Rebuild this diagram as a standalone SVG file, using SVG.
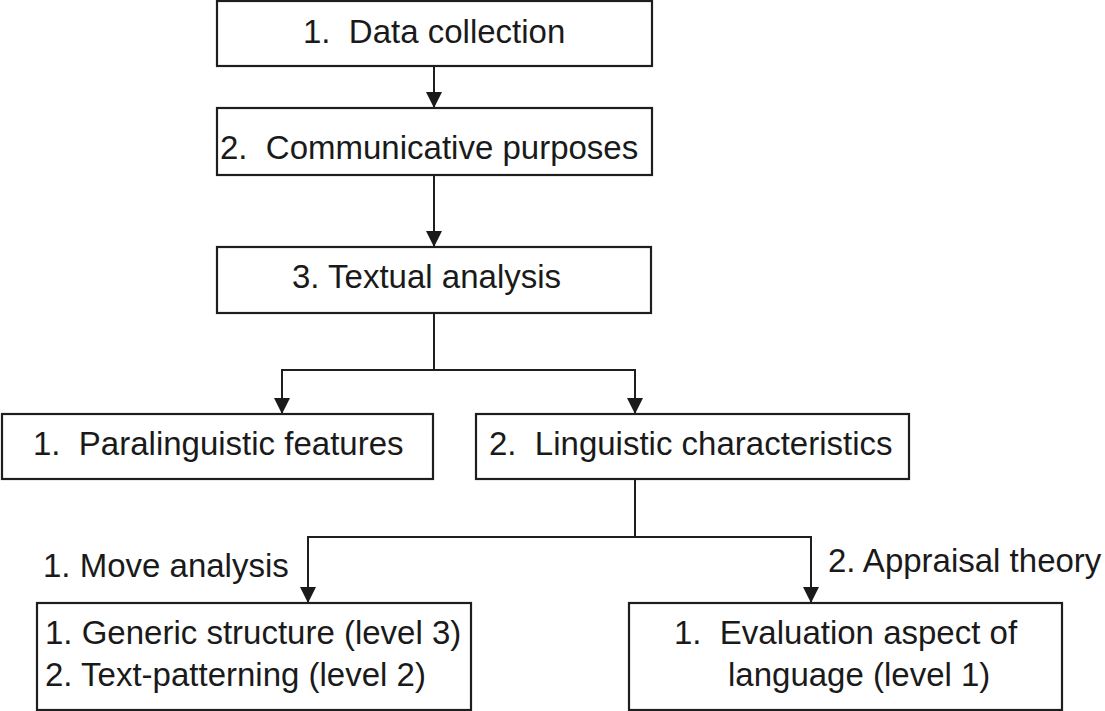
<svg xmlns="http://www.w3.org/2000/svg" width="1105" height="711" viewBox="0 0 1105 711">
  <style>
    .box { fill: #ffffff; stroke: #1e1e1e; stroke-width: 2.2; }
    .lbl { font-family: "Liberation Sans", Arial, sans-serif; font-size: 33px; fill: #1a1a1a; }
    .conn { fill: none; stroke: #1e1e1e; stroke-width: 2; }
  </style>
  <defs>
    <marker id="arrow" markerUnits="userSpaceOnUse" markerWidth="18" markerHeight="18" refX="16" refY="8" orient="auto">
      <path d="M0,0 L16,8 L0,16 z" fill="#1a1a1a"/>
    </marker>
  </defs>
  <rect width="1105" height="711" fill="#ffffff"/>

  <g id="connectors">
    <path class="conn" d="M434,67 V108" marker-end="url(#arrow)"/>
    <path class="conn" d="M434,176 V247" marker-end="url(#arrow)"/>
    <path class="conn" d="M434,314 V370 H282 V414" marker-end="url(#arrow)"/>
    <path class="conn" d="M434,370 H635 V414" marker-end="url(#arrow)"/>
    <path class="conn" d="M635,480 V537 H308 V603" marker-end="url(#arrow)"/>
    <path class="conn" d="M635,537 H811 V603" marker-end="url(#arrow)"/>
  </g>

  <g id="node-data-collection">
    <rect class="box" x="217" y="1" width="435" height="65"/>
    <text class="lbl" x="303" y="43">1.&#160; Data collection</text>
  </g>

  <g id="node-communicative-purposes">
    <rect class="box" x="217" y="108" width="435" height="67"/>
    <text class="lbl" x="220" y="159">2.&#160; Communicative purposes</text>
  </g>

  <g id="node-textual-analysis">
    <rect class="box" x="217" y="247" width="434" height="66"/>
    <text class="lbl" x="292" y="288">3. Textual analysis</text>
  </g>

  <g id="node-paralinguistic">
    <rect class="box" x="2" y="414" width="431" height="65"/>
    <text class="lbl" x="33" y="455">1.&#160; Paralinguistic features</text>
  </g>

  <g id="node-linguistic">
    <rect class="box" x="476" y="414" width="433" height="65"/>
    <text class="lbl" x="489" y="455">2.&#160; Linguistic characteristics</text>
  </g>

  <g id="label-move-analysis">
    <text class="lbl" x="43" y="577">1. Move analysis</text>
  </g>

  <g id="label-appraisal-theory">
    <text class="lbl" x="828" y="572">2. Appraisal theory</text>
  </g>

  <g id="node-generic-structure">
    <rect class="box" x="37" y="603" width="434" height="107"/>
    <text class="lbl" x="45" y="644">1. Generic structure (level 3)</text>
    <text class="lbl" x="45" y="686">2. Text-patterning (level 2)</text>
  </g>

  <g id="node-evaluation">
    <rect class="box" x="629" y="603" width="433" height="107"/>
    <text class="lbl" x="674" y="644">1.&#160; Evaluation aspect of</text>
    <text class="lbl" x="728" y="686">language (level 1)</text>
  </g>
</svg>
